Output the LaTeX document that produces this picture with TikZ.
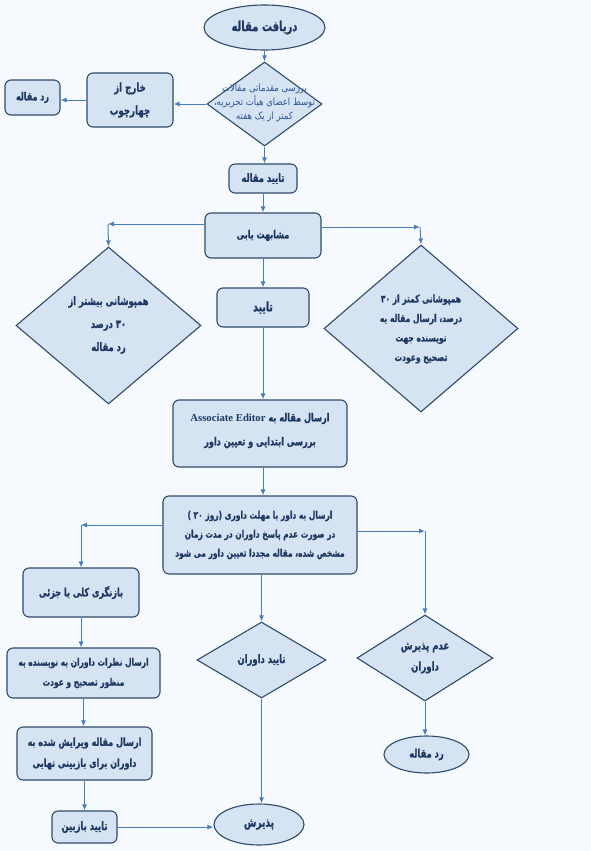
\documentclass[tikz,border=0pt]{standalone}
\usepackage{fontspec}
\setmainfont{Liberation Serif}
\newfontfamily\fa[Script=Arabic,FakeStretch=0.72,BoldFeatures={FakeBold=0.8}]{DejaVu Sans}
\newfontfamily\faR[Script=Arabic,FakeStretch=0.85]{DejaVu Sans}
\TeXXeTstate=1
\usetikzlibrary{shapes.geometric,arrows.meta}
\definecolor{bgc}{HTML}{F6FAFE}
\definecolor{fillc}{HTML}{D5E3F2}
\definecolor{edgec}{HTML}{2F4B6A}
\definecolor{arrc}{HTML}{4A7EBB}
\definecolor{txtc}{HTML}{1F3864}
\definecolor{txtb}{HTML}{2F5597}
\newcommand{\fatx}[1]{\beginR#1\endR}
\newcommand{\fsz}[2]{\fa\bfseries\fontsize{#1}{#2}\selectfont}
\tikzset{
  base/.style={draw=edgec, fill=fillc, line width=1.1pt, inner sep=0pt, text=txtc,
    font=\fsz{11.6}{20}, align=center},
  rbox/.style={base, rectangle, rounded corners=6pt},
  oval/.style={base, ellipse},
  dia/.style={base, diamond},
  lbl/.style={inner sep=0pt, text=txtc, font=\fsz{11.6}{21}, align=center},
  ar/.style={draw=arrc, line width=1pt, -{Latex[length=6pt,width=5pt]}},
}
\begin{document}
\begin{tikzpicture}[x=1pt,y=-1pt]
\fill[bgc] (0,0) rectangle (591,851);
\useasboundingbox (0,0) rectangle (591,851);

\node[oval, minimum width=121pt, minimum height=45pt, font=\fsz{13.9}{20}] (e1) at (264.5,27.5) {\fatx{دریافت مقاله}};
\node[dia, minimum width=115pt, minimum height=84pt] (d1) at (264.5,104) {};
\node[inner sep=0pt, text=txtb, font=\faR\fontsize{10}{14}\selectfont, align=center] (d1t) at (264.5,103)
  {\fatx{بررسی مقدماتی مقالات}\\\fatx{توسط اعضای هیأت تحریریه،}\\\fatx{کمتر از یک هفته}};
\node[rbox, minimum width=86pt, minimum height=54pt, font=\fsz{12}{23}] (out) at (130,100) {\fatx{خارج از}\\\fatx{چهارچوب}};
\node[rbox, minimum width=55pt, minimum height=35pt, font=\fsz{11.1}{20}] (rej1) at (32.5,97.5) {\fatx{رد مقاله}};
\node[rbox, minimum width=68pt, minimum height=29pt, font=\fsz{11.6}{20}] (ok1) at (263,178.5) {\fatx{تایید مقاله}};
\node[rbox, minimum width=116pt, minimum height=45pt, font=\fsz{11.1}{20}] (sim) at (263,235.5) {\fatx{مشابهت یابی}};
\node[dia, minimum width=185pt, minimum height=157pt] (dL) at (108.5,325.5) {};
\node[lbl, font=\fsz{11.6}{23}] (dLt) at (108.5,325) {\fatx{همپوشانی بیشتر از}\\\fatx{۳۰ درصد}\\\fatx{رد مقاله}};
\node[rbox, minimum width=92pt, minimum height=39pt, font=\fsz{13}{20}] (ok2) at (263,307.5) {\fatx{تایید}};
\node[dia, minimum width=194pt, minimum height=167pt] (dR) at (421,328.5) {};
\node[lbl, font=\fsz{10.5}{19.5}] (dRt) at (421,329) {\fatx{همپوشانی کمتر از ۳۰}\\\fatx{درصد، ارسال مقاله به}\\\fatx{نویسنده جهت}\\\fatx{تصحیح وعودت}};
\node[rbox, minimum width=174pt, minimum height=67pt] (ae) at (260,433.5) {};
\node[lbl, font=\fsz{11.3}{24}] (aet) at (260,430.5)
  {\fatx{ارسال مقاله به \beginL{\rmfamily\bfseries\fontsize{10.7}{24}\selectfont Associate Editor}\endL}\\\fatx{بررسی ابتدایی و تعیین داور}};
\node[rbox, minimum width=194pt, minimum height=78pt, font=\fsz{10.4}{19}] (rev) at (260,535)
  {\fatx{ارسال به داور با مهلت داوری (روز ۲۰ )}\\\fatx{در صورت عدم پاسخ داوران در مدت زمان}\\\fatx{مشخص شده، مقاله مجددا تعیین داور می شود}};
\node[rbox, minimum width=116pt, minimum height=49pt, font=\fsz{11.3}{20}] (bz) at (81,592.5) {\fatx{بازنگری کلی یا جزئی}};
\node[rbox, minimum width=153pt, minimum height=50pt, font=\fsz{10.4}{20}] (nz) at (83.5,673) {\fatx{ارسال نظرات داوران به نویسنده به}\\\fatx{منظور تصحیح و عودت}};
\node[rbox, minimum width=135pt, minimum height=53pt, font=\fsz{11.2}{21}] (vr) at (84.5,753.5) {\fatx{ارسال مقاله ویرایش شده  به}\\\fatx{داوران برای بازبینی نهایی}};
\node[rbox, minimum width=65pt, minimum height=32pt, font=\fsz{11.7}{20}] (tb) at (84.5,827) {\fatx{تایید بازبین}};
\node[dia, minimum width=129pt, minimum height=76pt] (td) at (261.5,660) {};
\node[lbl, font=\fsz{11.7}{20}] (tdt) at (261.5,660) {\fatx{تایید داوران}};
\node[oval, minimum width=90pt, minimum height=41pt, font=\fsz{12.6}{20}] (acc) at (259,824.5) {\fatx{پذیرش}};
\node[dia, minimum width=136pt, minimum height=86pt] (dN) at (425,658) {};
\node[lbl, font=\fsz{11.9}{21}] (dNt) at (425,658) {\fatx{عدم پذیرش}\\\fatx{داوران}};
\node[oval, minimum width=85pt, minimum height=37pt, font=\fsz{11.6}{20}] (rej2) at (426.5,754.5) {\fatx{رد مقاله}};

\coordinate (cL1) at (108,224);
\coordinate (cR1) at (420,227);
\coordinate (cL2) at (81,525);
\coordinate (cR2) at (425,531);

\draw[ar] (e1.south) -- (e1.south |- d1.north);
\draw[ar] (d1.west) -- (d1.west -| out.east);
\draw[ar] (out.west) -- (out.west -| rej1.east);
\draw[ar] (d1.south) -- (d1.south |- ok1.north);
\draw[ar] (ok1.south) -- (ok1.south |- sim.north);
\draw[ar] (sim.west |- cL1) -- (cL1);
\draw[ar] (cL1) -- (dL.north);
\draw[ar] (sim.east |- cR1) -- (cR1);
\draw[ar] (cR1) -- (dR.north);
\draw[ar] (sim.south) -- (sim.south |- ok2.north);
\draw[ar] (ok2.south) -- (ok2.south |- ae.north);
\draw[ar] (ok2.south |- ae.south) -- (ok2.south |- rev.north);
\draw[ar] (rev.west |- cL2) -- (cL2);
\draw[ar] (cL2) -- (bz.north);
\draw[ar] (rev.east |- cR2) -- (cR2);
\draw[ar] (cR2) -- (dN.north);
\draw[ar] (td.north |- rev.south) -- (td.north);
\draw[ar] (td.south) -- (td.south |- acc.north);
\draw[ar] (dN.south) -- (dN.south |- rej2.north);
\draw[ar] (bz.south) -- (bz.south |- nz.north);
\draw[ar] (nz.south) -- (nz.south |- vr.north);
\draw[ar] (vr.south) -- (vr.south |- tb.north);
\draw[ar] (tb.east) -- (tb.east -| acc.west);
\end{tikzpicture}
\end{document}
